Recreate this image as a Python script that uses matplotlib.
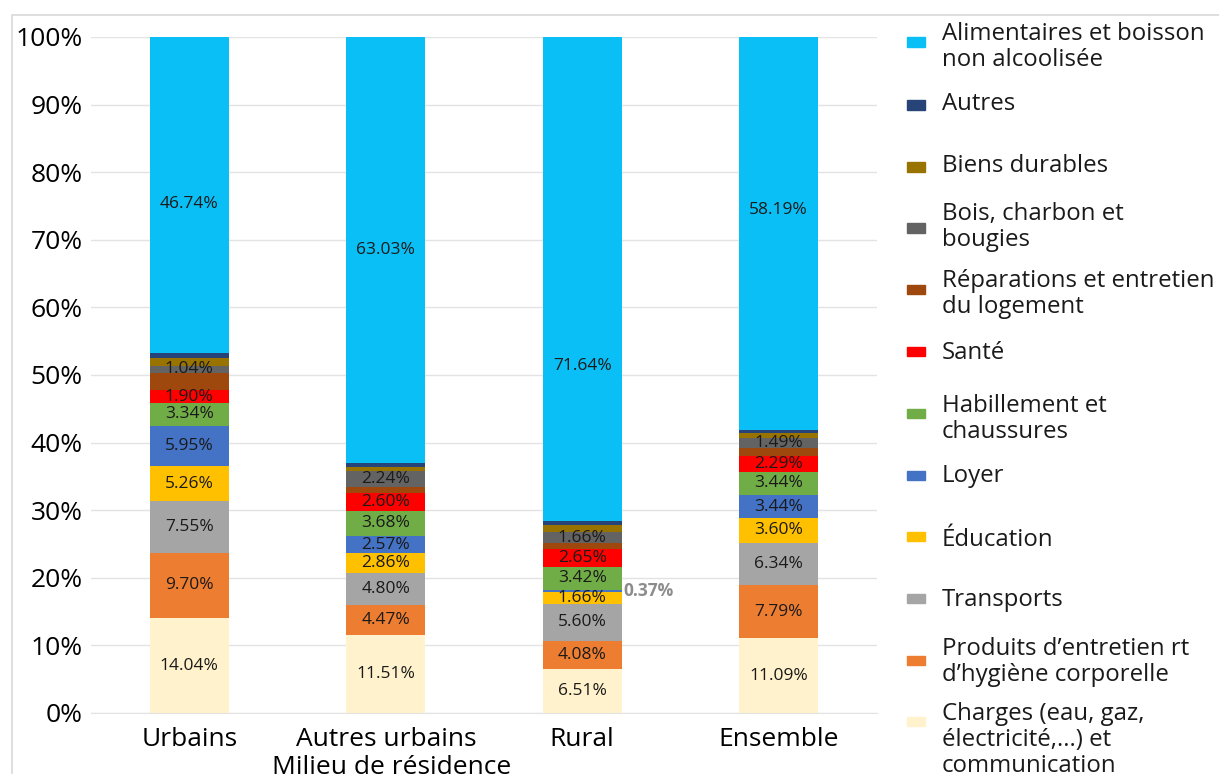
import matplotlib
matplotlib.use("Agg")
import matplotlib.pyplot as plt
from matplotlib.patches import Rectangle
import numpy as np

plt.rcParams['font.family'] = ['Open Sans', 'DejaVu Sans']

categories = ["Urbains", "Autres urbains", "Rural", "Ensemble"]

# series, bottom -> top of the stack
series_names = [
    "Charges (eau, gaz,\nélectricité,...) et\ncommunication",
    "Produits d\u2019entretien rt\nd\u2019hygiène corporelle",
    "Transports",
    "Éducation",
    "Loyer",
    "Habillement et\nchaussures",
    "Santé",
    "Réparations et entretien\ndu logement",
    "Bois, charbon et\nbougies",
    "Biens durables",
    "Autres",
    "Alimentaires et boisson\nnon alcoolisée",
]

charges = [14.04, 11.51, 6.51, 11.09]
produits = [9.70, 4.47, 4.08, 7.79]
transports = [7.55, 4.80, 5.60, 6.34]
education = [5.26, 2.86, 1.66, 3.60]
loyer = [5.95, 2.57, 0.37, 3.44]
habillement = [3.34, 3.68, 3.42, 3.44]
sante = [1.90, 2.60, 2.65, 2.29]
reparations = [2.60, 1.00, 0.80, 1.16]
bois = [1.04, 2.24, 1.66, 1.49]
biens_durables = [1.20, 0.70, 1.00, 0.85]
autres = [0.68, 0.54, 0.61, 0.32]
alimentaires = [46.74, 63.03, 71.64, 58.19]

series_values = [charges, produits, transports, education, loyer, habillement,
                 sante, reparations, bois, biens_durables, autres, alimentaires]
# series whose segments carry a data label
labelled = [True, True, True, True, True, True, True, False, True, False, False, True]

colors = ["#FFF2CC", "#ED7D31", "#A5A5A5", "#FFC000", "#4472C4", "#70AD47",
          "#FF0000", "#9E480E", "#636363", "#997300", "#264478", "#0ABFF5"]

yticks = [0, 10, 20, 30, 40, 50, 60, 70, 80, 90, 100]

# layout: relative position of the label inside the top (Alimentaires) segment
top_label_frac = [0.47, 0.50, 0.32, 0.56]

W, H = 1219, 774
fig = plt.figure(figsize=(W / 100, H / 100), dpi=100)

# faint outer border
fig.patches.append(Rectangle((12 / W, -0.01), 1.02, (774 - 15) / H + 0.01,
                             transform=fig.transFigure, fill=False,
                             edgecolor="#D9D9D9", linewidth=1.2))

ax = fig.add_axes([91 / W, (H - 713) / H, (877 - 91) / W, (713 - 37) / H])
x = np.arange(len(categories))
bottom = np.zeros(len(categories))
n_series = len(series_names)
for si, (name, vals, col, lab) in enumerate(zip(series_names, series_values, colors, labelled)):
    vals = np.array(vals)
    ax.bar(x, vals, bottom=bottom, width=0.4, color=col, label=name, zorder=2)
    if lab:
        for xi, v, b in zip(x, vals, bottom):
            frac = top_label_frac[xi] if si == n_series - 1 else 0.5
            if v >= 1:
                ax.text(xi, b + v * frac, f"{v:.2f}%", ha="center", va="center",
                        fontsize=12.5, color="#1A1A1A", zorder=3)
            else:
                ax.text(xi + 0.21, b + v / 2, f"{v:.2f}%", ha="left", va="center",
                        fontsize=12.5, color="#8C8C8C", fontweight="bold", zorder=3)
    bottom = bottom + vals

ax.set_xlim(-0.5, 3.5)
ax.set_ylim(0, 100)
ax.set_yticks(yticks)
ax.set_yticklabels([f"{v}%" for v in yticks], fontsize=19)
ax.set_xticks(x)
ax.set_xticklabels(categories, fontsize=19)
ax.tick_params(axis="both", length=0)
ax.tick_params(axis="y", pad=6)
ax.tick_params(axis="x", pad=10)
ax.grid(axis="y", color="#E3E3E3", linewidth=1, zorder=0)
ax.set_axisbelow(True)
for s in ["top", "right", "left"]:
    ax.spines[s].set_visible(False)
ax.spines["bottom"].set_color("#E3E3E3")
ax.set_xlabel("Milieu de résidence", fontsize=19)
ax.xaxis.set_label_coords((392 - 91) / (877 - 91), -0.08)
ax.xaxis.label.set_va("center")

# manual legend (top -> bottom)
marker_y = [42, 105, 167, 228, 289, 351, 413, 475, 536, 598, 660, 721]
text_y = [47, 104, 166, 227, 294, 353, 419, 476, 540, 600, 662, 740]
for i, idx in enumerate(range(len(series_names) - 1, -1, -1)):
    my = marker_y[i]
    fig.patches.append(Rectangle((907 / W, (H - my - 4.5) / H), 18 / W, 9 / H,
                                 transform=fig.transFigure, color=colors[idx]))
    fig.text(942 / W, (H - text_y[i]) / H, series_names[idx], fontsize=17.3,
             va="center", ha="left", color="#1A1A1A", linespacing=1.12)

fig.savefig("out.png", dpi=100)
